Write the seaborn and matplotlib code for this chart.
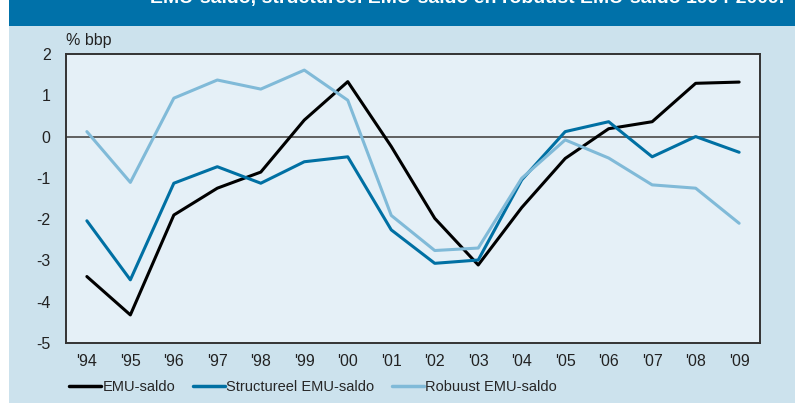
import numpy as np
import pandas as pd
import matplotlib
matplotlib.use('Agg')
import matplotlib.pyplot as plt
from matplotlib.patches import Rectangle
import seaborn as sns

# Data
years = list(range(1994, 2010))
year_labels = ["'94", "'95", "'96", "'97", "'98", "'99", "'00", "'01",
               "'02", "'03", "'04", "'05", "'06", "'07", "'08", "'09"]
emu_saldo = [-3.39, -4.32, -1.90, -1.25, -0.86, 0.40, 1.33, -0.24,
             -1.98, -3.11, -1.72, -0.53, 0.19, 0.36, 1.29, 1.32]
structureel = [-2.04, -3.47, -1.13, -0.73, -1.13, -0.61, -0.49, -2.26,
               -3.07, -2.99, -1.05, 0.12, 0.36, -0.49, 0.00, -0.38]
robuust = [0.12, -1.11, 0.93, 1.37, 1.15, 1.61, 0.88, -1.91,
           -2.76, -2.70, -1.01, -0.08, -0.52, -1.17, -1.25, -2.10]
series_names = ['EMU-saldo', 'Structureel EMU-saldo', 'Robuust EMU-saldo']
title = 'EMU-saldo, structureel EMU-saldo en robuust EMU-saldo 1994-2009.'

df = pd.DataFrame({
    'jaar': years * 3,
    'waarde': emu_saldo + structureel + robuust,
    'reeks': [series_names[0]] * 16 + [series_names[1]] * 16 + [series_names[2]] * 16,
})

sns.set_style('white')
plt.rcParams['font.family'] = ['Liberation Sans', 'DejaVu Sans']
plt.rcParams['axes.unicode_minus'] = False

fig = plt.figure(figsize=(7.95, 4.03), dpi=100, facecolor='white')

# achtergrondvlakken
W, H = 795, 403
fig.patches.append(Rectangle((9 / W, 0), 1 - 9 / W, 1 - 26 / H, transform=fig.transFigure,
                             facecolor='#cce2ed', edgecolor='none', zorder=-5))
fig.patches.append(Rectangle((9 / W, 1 - 26 / H), 1 - 9 / W, 26 / H, transform=fig.transFigure,
                             facecolor='#0071a9', edgecolor='none', zorder=-5))
fig.text(150 / W, 1 - 3 / H, title, color='white', fontsize=14, fontweight='bold',
         va='baseline', ha='left')

ax = fig.add_axes([66 / W, 60 / H, (760 - 66) / W, (343 - 54) / H])
ax.set_zorder(2)
ax.set_facecolor('#e5f0f7')

palette = {series_names[0]: '#000000', series_names[1]: '#0070a3', series_names[2]: '#80bad8'}
ax.axhline(0, color='#555555', lw=1.3, zorder=1)
sns.lineplot(data=df, x='jaar', y='waarde', hue='reeks', palette=palette,
             linewidth=2.2, ax=ax, legend=False, zorder=3)

ax.set_xlim(1993.52, 2009.48)
ax.set_ylim(-5, 2)
ax.set_xticks(years)
ax.set_xticklabels(year_labels)
ax.set_yticks(range(-5, 3))
ax.tick_params(axis='both', length=0, labelsize=11.5, colors='#222222')
ax.tick_params(axis='x', pad=8)
ax.tick_params(axis='y', pad=11)
ax.set_xlabel('')
ax.set_ylabel('')
for side, sp in ax.spines.items():
    sp.set_visible(True)
    sp.set_color('#333333')
    sp.set_linewidth(1.4)

fig.text(66 / W, 1 - 41 / H, '% bbp', fontsize=11.5, color='#222222', va='center', ha='left')

handles = [plt.Line2D([], [], color=palette[n], lw=2.5) for n in series_names]
fig.legend(handles, series_names, loc='center', bbox_to_anchor=(313 / W, 16 / H),
           ncol=3, frameon=False, fontsize=10.5, handlelength=2.2, handletextpad=0.1,
           columnspacing=1.2)

fig.savefig('out.png', dpi=100, facecolor=fig.get_facecolor())
